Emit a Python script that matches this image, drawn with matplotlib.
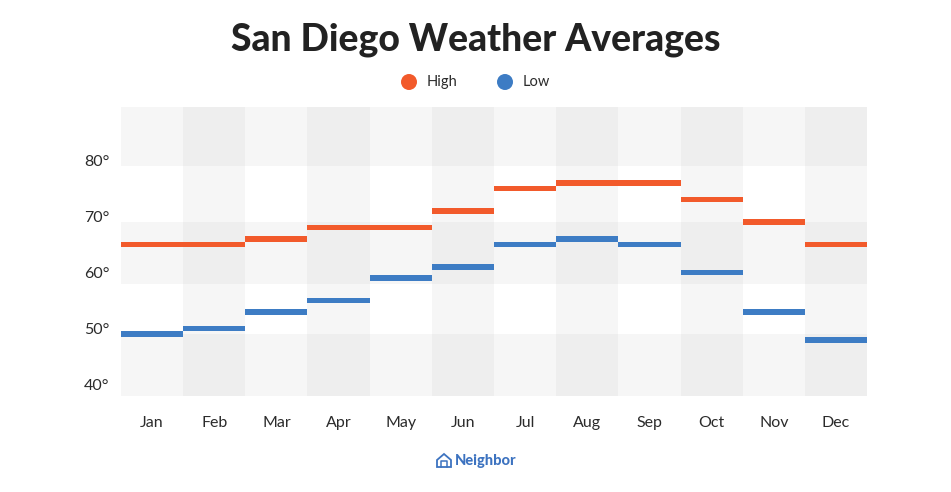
import matplotlib
matplotlib.use("Agg")
import matplotlib.pyplot as plt
from matplotlib.patches import Ellipse, Polygon, Rectangle
from matplotlib.lines import Line2D

months = ["Jan", "Feb", "Mar", "Apr", "May", "Jun", "Jul", "Aug", "Sep", "Oct", "Nov", "Dec"]
high = [66, 66, 67, 69, 69, 72, 76, 77, 77, 74, 70, 66]
low = [50, 51, 54, 56, 60, 62, 66, 67, 66, 61, 54, 49]
yticks = [40, 50, 60, 70, 80]
ytick_labels = ["40°", "50°", "60°", "70°", "80°"]
band_edges = [39, 50, 59, 70, 80, 90.6]

HIGH_C = "#F25A2B"
LOW_C = "#3D7CC4"
TEXT_C = "#2b2b2b"

plt.rcParams["font.family"] = ["Lato", "DejaVu Sans"]

W, H = 951, 492
fig = plt.figure(figsize=(W / 100, H / 100), dpi=100)
ax = fig.add_axes([0.1272, 0.1957, 0.7845, 0.5874])

# background checker bands
n = len(months)
for r in range(len(band_edges) - 1):
    dark_row = (r % 2 == 0)
    for c in range(n):
        even_col = (c % 2 == 1)
        if dark_row:
            col = "#eeeeee" if even_col else "#f6f6f6"
        else:
            col = "#f6f6f6" if even_col else "#ffffff"
        ax.add_patch(Rectangle((c - 0.5, band_edges[r]), 1.0,
                               band_edges[r + 1] - band_edges[r],
                               facecolor=col, edgecolor="none", zorder=0))

x = list(range(n))
ax.bar(x, [1.0] * n, bottom=[v - 0.5 for v in high], width=1.0, color=HIGH_C, zorder=3, linewidth=0)
ax.bar(x, [1.0] * n, bottom=[v - 0.5 for v in low], width=1.0, color=LOW_C, zorder=3, linewidth=0)

ax.set_xlim(-0.5, n - 0.5)
ax.set_ylim(band_edges[0], band_edges[-1])
for s in ax.spines.values():
    s.set_visible(False)
ax.set_xticks([])
ax.set_yticks([])

# y labels (baseline at tick value)
for v, lab in zip(yticks, ytick_labels):
    ax.text(-0.68, v, lab, ha="right", va="baseline", fontsize=11.5, color=TEXT_C,
            transform=ax.transData)
# x labels
for i, m in enumerate(months):
    ax.text(i, 34.2, m, ha="center", va="center", fontsize=11.5, color=TEXT_C)

# title
fig.text(0.5, 1 - 40 / H, "San Diego Weather Averages", ha="center", va="center",
         fontsize=26.8, fontweight="black", color="#222222")

# legend
for cx, lab, col in [(409, "High", HIGH_C), (505, "Low", LOW_C)]:
    fig.patches.append(Ellipse((cx / W, 1 - 82 / H), 16 / W, 16 / H, transform=fig.transFigure,
                               facecolor=col, edgecolor="none"))
    fig.text((cx + 18) / W, 1 - 82 / H, lab, ha="left", va="center", fontsize=10.5,
             color=TEXT_C)

# Neighbor logo
LOGO_C = "#3D73C0"
fig.text(455 / W, 1 - 461 / H, "Neighbor", ha="left", va="center", fontsize=10.5,
         fontweight="black", color=LOGO_C)
house = [(437, 460), (444, 454), (451, 460), (451, 467), (437, 467)]
fig.patches.append(Polygon([(px / W, 1 - py / H) for px, py in house], closed=True,
                           transform=fig.transFigure, facecolor="none",
                           edgecolor=LOGO_C, linewidth=1.3))
fig.lines.append(Line2D([441 / W, 441 / W, 447 / W, 447 / W],
                        [1 - 467 / H, 1 - 461 / H, 1 - 461 / H, 1 - 467 / H],
                        transform=fig.transFigure, color=LOGO_C, linewidth=1.1))

fig.savefig("out.png", dpi=100, facecolor="white")
